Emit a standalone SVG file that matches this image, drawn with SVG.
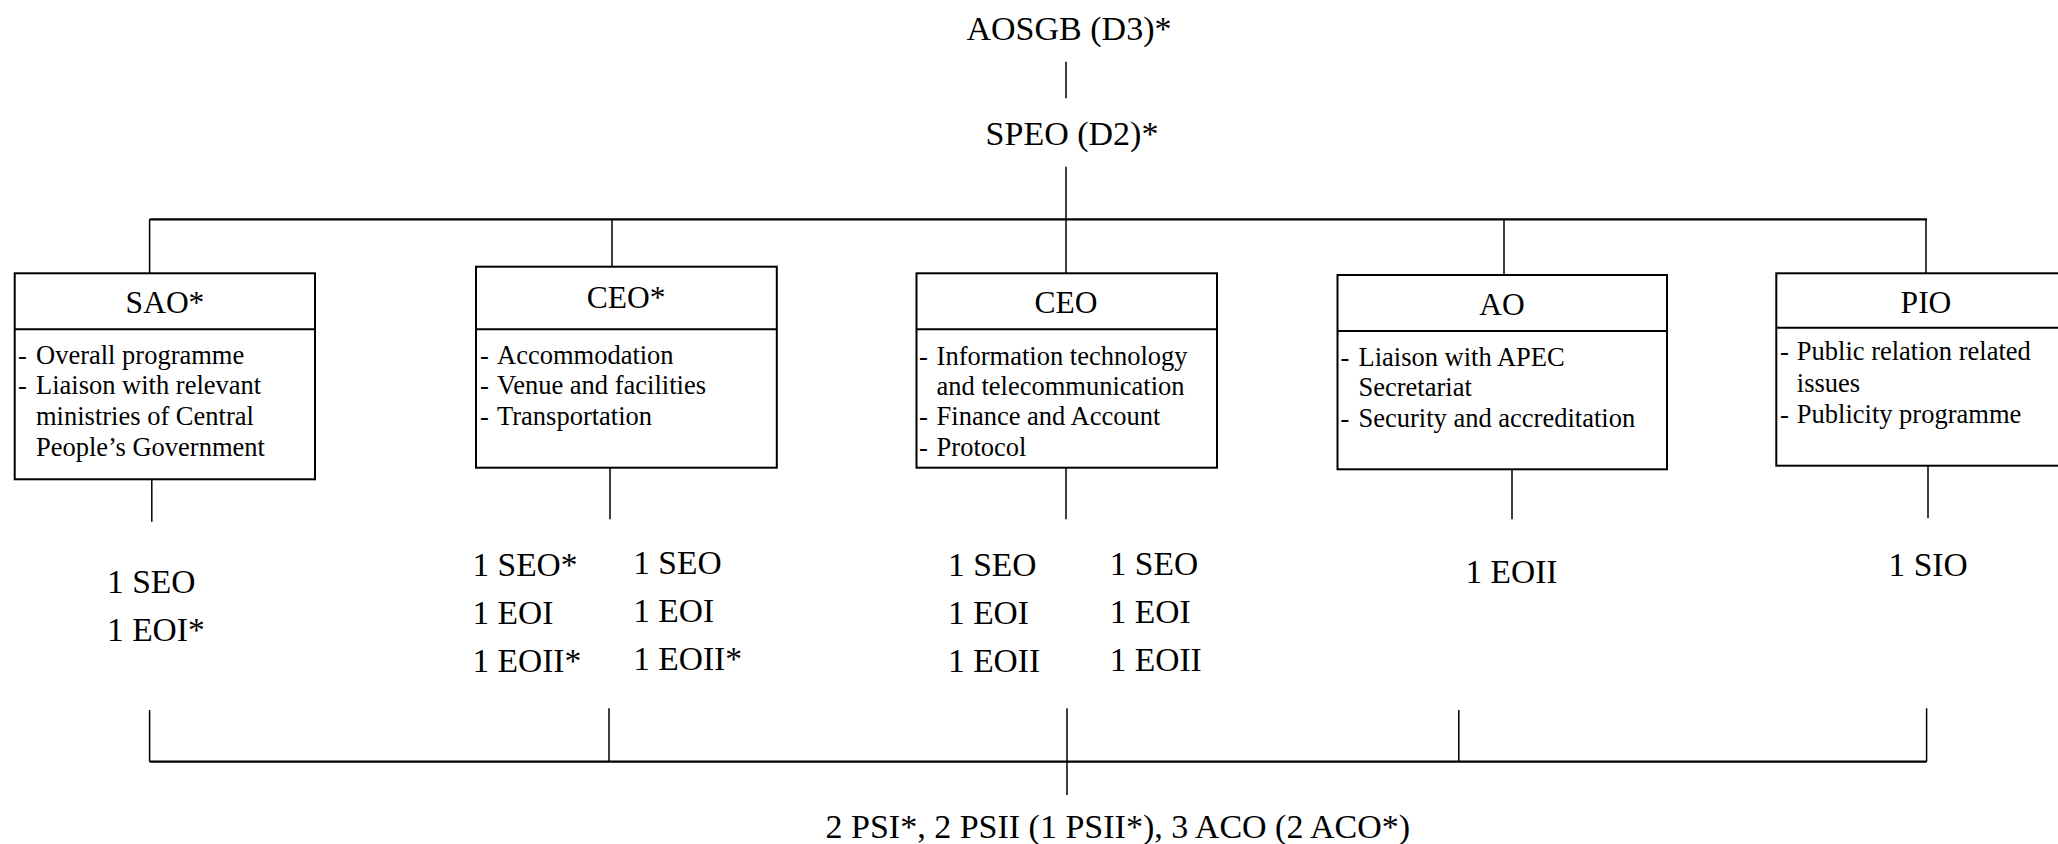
<svg xmlns="http://www.w3.org/2000/svg" width="2058" height="844" viewBox="0 0 2058 844">
<style>
text{font-family:"Liberation Serif","Times New Roman",serif;fill:#000}
.top{font-size:34px;text-anchor:middle}
.title{font-size:31.5px;text-anchor:middle}
.body{font-size:26.5px}
.num{font-size:33.5px}
.bot{font-size:34px}
.box{fill:#fff;stroke:#000;stroke-width:2}
.div{stroke:#000;stroke-width:2}
.ln{stroke:#000;stroke-width:1.5;fill:none}
.hl{stroke:#000;stroke-width:2.2;fill:none}
</style>
<rect width="2058" height="844" fill="#fff"/>
<g id="connectors">
<line class="ln" x1="1066" y1="61.7" x2="1066" y2="98.3"/>
<line class="ln" x1="1066" y1="166.7" x2="1066" y2="273.3"/>
<line class="hl" x1="149.6" y1="219.3" x2="1927" y2="219.3"/>
<line class="ln" x1="149.6" y1="219.3" x2="149.6" y2="273.3"/>
<line class="ln" x1="612" y1="219.3" x2="612" y2="266.7"/>
<line class="ln" x1="1504" y1="219.3" x2="1504" y2="275"/>
<line class="ln" x1="1926" y1="219.3" x2="1926" y2="273.3"/>
<line class="ln" x1="151.8" y1="479.3" x2="151.8" y2="521.7"/>
<line class="ln" x1="610" y1="467.7" x2="610" y2="519.3"/>
<line class="ln" x1="1066" y1="467.7" x2="1066" y2="519.3"/>
<line class="ln" x1="1512" y1="469.3" x2="1512" y2="519.3"/>
<line class="ln" x1="1928" y1="465.7" x2="1928" y2="518.3"/>
<line class="ln" x1="149.6" y1="710" x2="149.6" y2="761.7"/>
<line class="ln" x1="609" y1="708.3" x2="609" y2="761.7"/>
<line class="ln" x1="1067" y1="708.3" x2="1067" y2="795"/>
<line class="ln" x1="1458.8" y1="710" x2="1458.8" y2="761.7"/>
<line class="ln" x1="1926.6" y1="708.3" x2="1926.6" y2="761.7"/>
<line class="hl" x1="149.6" y1="761.7" x2="1926.6" y2="761.7"/>
</g>
<g id="aosgb"><text class="top" x="1069" y="40">AOSGB (D3)*</text></g>
<g id="speo"><text class="top" x="1072" y="145">SPEO (D2)*</text></g>
<g id="sao">
<rect class="box" x="14.7" y="273.3" width="300.3" height="206"/>
<line class="div" x1="14.7" y1="329.3" x2="315" y2="329.3"/>
<text class="title" x="165" y="312.7">SAO*</text>
<text class="body" x="18" y="364.3">-</text><text class="body" x="36" y="364.3">Overall programme</text>
<text class="body" x="18" y="394.3">-</text><text class="body" x="36" y="394.3">Liaison with relevant</text>
<text class="body" x="36" y="425">ministries of Central</text>
<text class="body" x="36" y="456">People’s Government</text>
</g>
<g id="ceo1">
<rect class="box" x="476" y="266.7" width="300.8" height="201"/>
<line class="div" x1="476" y1="329.3" x2="776.8" y2="329.3"/>
<text class="title" x="626" y="308.3">CEO*</text>
<text class="body" x="480" y="364.3">-</text><text class="body" x="497" y="364.3">Accommodation</text>
<text class="body" x="480" y="394.3">-</text><text class="body" x="497" y="394.3">Venue and facilities</text>
<text class="body" x="480" y="425">-</text><text class="body" x="497" y="425">Transportation</text>
</g>
<g id="ceo2">
<rect class="box" x="916.5" y="273.3" width="300.5" height="194.4"/>
<line class="div" x1="916.5" y1="329.3" x2="1217" y2="329.3"/>
<text class="title" x="1066" y="313.3">CEO</text>
<text class="body" x="919" y="365">-</text><text class="body" x="936.6" y="365">Information technology</text>
<text class="body" x="936.6" y="395">and telecommunication</text>
<text class="body" x="919" y="425">-</text><text class="body" x="936.6" y="425">Finance and Account</text>
<text class="body" x="919" y="456">-</text><text class="body" x="936.6" y="456">Protocol</text>
</g>
<g id="ao">
<rect class="box" x="1337.5" y="275" width="329.5" height="194.3"/>
<line class="div" x1="1337.5" y1="331" x2="1667" y2="331"/>
<text class="title" x="1502" y="315">AO</text>
<text class="body" x="1340.6" y="366">-</text><text class="body" x="1358.5" y="366">Liaison with APEC</text>
<text class="body" x="1358.5" y="396">Secretariat</text>
<text class="body" x="1340.6" y="426.7">-</text><text class="body" x="1358.5" y="426.7">Security and accreditation</text>
</g>
<g id="pio">
<rect class="box" x="1776.3" y="273.3" width="300" height="192.4"/>
<line class="div" x1="1776.3" y1="327.7" x2="2076.3" y2="327.7"/>
<text class="title" x="1926" y="313.3">PIO</text>
<text class="body" x="1780" y="360">-</text><text class="body" x="1796.8" y="360">Public relation related</text>
<text class="body" x="1796.8" y="391.7">issues</text>
<text class="body" x="1780" y="422.7">-</text><text class="body" x="1796.8" y="422.7">Publicity programme</text>
</g>
<g id="sao-staff">
<text class="num" x="107" y="593.3">1 SEO</text>
<text class="num" x="107" y="641">1 EOI*</text>
</g>
<g id="ceo1-staff">
<text class="num" x="472.4" y="576">1 SEO*</text>
<text class="num" x="472.4" y="624">1 EOI</text>
<text class="num" x="472.4" y="671.7">1 EOII*</text>
<text class="num" x="633.2" y="574.3">1 SEO</text>
<text class="num" x="633.2" y="622.3">1 EOI</text>
<text class="num" x="633.2" y="670">1 EOII*</text>
</g>
<g id="ceo2-staff">
<text class="num" x="948" y="576">1 SEO</text>
<text class="num" x="948" y="624">1 EOI</text>
<text class="num" x="948" y="672">1 EOII</text>
<text class="num" x="1109.7" y="575">1 SEO</text>
<text class="num" x="1109.7" y="623.3">1 EOI</text>
<text class="num" x="1109.7" y="671">1 EOII</text>
</g>
<g id="ao-staff"><text class="num" x="1465.4" y="583.3">1 EOII</text></g>
<g id="pio-staff"><text class="num" x="1888.6" y="576">1 SIO</text></g>
<g id="support"><text class="bot" x="825.5" y="838.3">2 PSI*, 2 PSII (1 PSII*), 3 ACO (2 ACO*)</text></g>
</svg>
